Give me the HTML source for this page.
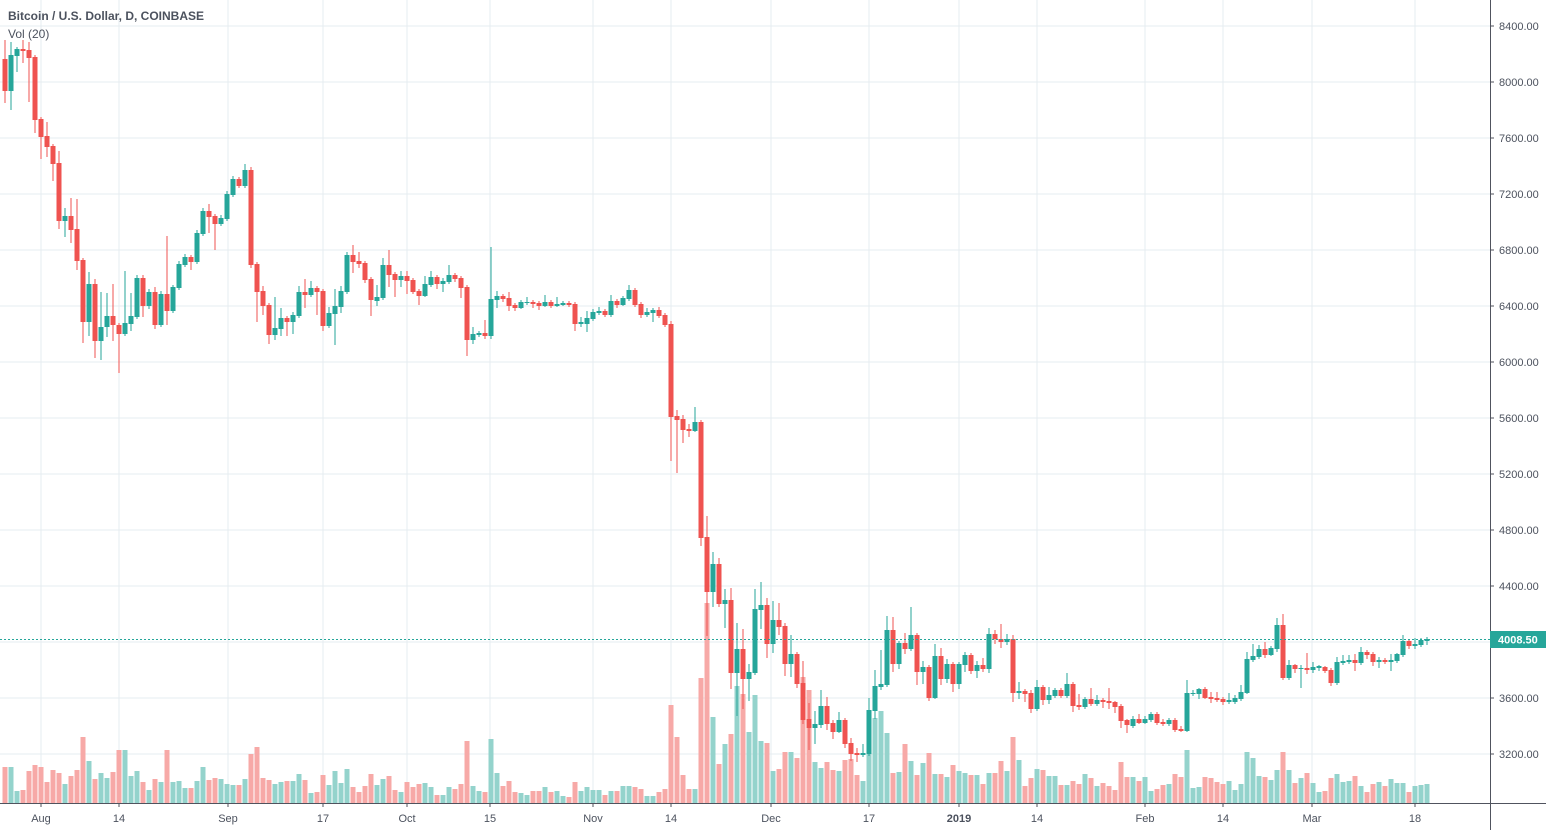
<!DOCTYPE html>
<html><head><meta charset="utf-8">
<style>
html,body{margin:0;padding:0;background:#fff;width:1546px;height:830px;overflow:hidden}
svg{display:block}
text{font-family:"Liberation Sans",sans-serif}
</style></head>
<body>
<svg id="c" width="1546" height="830" xmlns="http://www.w3.org/2000/svg"></svg>
<script>
const D=`r 59 91 40 103|g 55 91 42 110|g 49 56 47 72|r 49 51 40 63|r 50 58 42 102|r 57 120 55 133|r 119 137 117 159|r 136 147 122 157|r 146 164 144 181|r 163 221 151 229|g 216 221 208 237|r 216 230 198 243|r 229 261 199 270|r 260 322 258 343|g 284 322 272 336|r 284 341 279 358|g 327 341 292 360|g 316 327 293 337|r 316 325 284 341|r 325 334 323 373|g 323 334 271 336|g 316 324 293 331|g 278 317 275 319|r 278 306 275 317|g 292 306 289 309|r 292 325 287 329|g 294 325 291 327|r 294 311 236 325|g 287 311 285 313|g 264 288 261 290|g 257 265 254 267|r 257 262 255 270|g 233 262 230 264|g 211 234 208 236|r 211 217 204 233|r 216 224 214 250|g 218 224 215 226|g 194 219 191 221|g 179 195 176 197|r 179 186 177 188|g 170 186 164 188|r 170 265 167 268|r 264 292 262 322|r 291 306 286 315|r 305 335 303 344|g 328 335 297 340|g 318 329 308 336|r 318 322 316 336|g 315 322 312 334|g 292 316 286 318|r 292 295 279 308|g 288 295 281 297|r 288 292 286 315|r 291 326 289 331|g 313 326 307 328|g 306 314 289 345|g 291 307 286 313|g 255 292 252 294|r 255 262 245 273|r 261 264 252 268|r 263 280 261 283|r 279 300 277 316|g 297 301 285 306|g 265 298 258 300|r 265 275 250 287|r 274 280 272 297|g 276 280 271 287|r 276 281 271 294|r 280 292 278 294|r 291 296 289 305|g 284 296 276 297|g 277 285 271 287|r 277 284 275 289|g 281 284 278 292|g 275 282 265 284|r 275 279 273 282|r 278 288 276 298|r 287 340 285 356|g 334 340 327 344|g 333 335 331 337|r 333 336 320 339|g 299 336 247 339|g 296 300 291 308|r 296 299 294 302|r 298 306 292 311|r 305 308 303 311|g 302 308 300 309|g 302 303 297 305|r 302 304 300 308|r 303 306 301 310|g 302 306 295 307|r 302 306 300 308|g 304 306 297 307|g 303 305 301 306|r 303 305 301 307|r 304 324 302 331|g 322 324 317 327|g 318 324 311 332|g 312 319 309 321|g 311 313 307 315|r 311 315 309 317|g 301 315 295 317|r 301 305 299 308|g 298 305 296 306|g 290 299 285 301|r 290 305 288 307|r 304 315 302 318|g 312 315 308 317|g 310 313 308 322|r 310 316 307 318|r 315 325 313 327|r 324 417 321 461|r 416 420 410 473|r 419 430 415 443|r 429 431 424 437|g 422 431 407 432|r 422 538 420 546|r 537 592 516 636|g 564 592 552 607|r 564 604 558 607|g 600 604 589 628|r 600 673 588 689|g 649 673 623 716|r 649 679 629 709|g 672 679 664 701|g 609 673 589 675|g 605 610 582 629|r 605 644 598 658|g 620 644 601 653|r 620 627 603 635|r 626 664 623 676|g 654 664 635 677|r 654 684 652 688|r 683 720 661 724|r 719 728 703 750|g 724 728 711 744|g 706 725 690 728|r 706 724 697 730|r 723 732 720 739|g 720 732 712 733|r 720 744 718 748|r 743 754 738 761|r 753 755 748 762|g 753 755 744 757|g 710 754 698 756|g 686 711 670 719|g 684 687 650 690|g 630 685 616 687|r 630 664 617 672|g 643 664 641 669|r 643 649 633 654|g 635 649 607 651|r 635 672 633 685|g 667 672 661 684|r 667 698 665 701|g 656 698 644 699|r 656 679 648 685|g 664 679 659 683|r 664 684 662 692|g 664 684 662 689|g 655 665 652 672|r 655 671 653 674|g 665 671 661 678|r 665 669 658 672|g 634 669 628 673|r 634 639 630 644|r 639 642 624 648|g 639 642 634 645|r 639 693 635 702|g 691 693 682 699|r 691 694 689 702|r 693 709 690 713|g 687 709 680 711|r 687 700 685 705|g 695 700 687 704|g 690 696 688 698|r 690 696 688 698|g 684 696 673 698|r 684 706 682 712|r 705 707 694 710|g 699 707 697 709|r 699 704 688 706|g 700 704 695 706|r 700 702 698 708|r 701 703 688 709|r 702 707 701 713|r 706 721 704 728|r 720 725 719 733|g 719 726 716 728|r 719 723 714 724|g 719 723 716 724|g 714 720 712 722|r 714 723 712 725|r 722 724 719 726|g 720 724 718 726|r 720 730 718 732|r 729 731 726 732|g 693 731 680 732|g 693 694 690 696|g 689 694 688 699|r 689 698 687 699|r 697 699 692 703|r 698 700 692 702|r 699 702 697 705|g 700 702 693 704|g 698 702 695 704|g 692 699 685 701|g 659 693 652 694|g 656 660 644 662|g 649 657 645 659|r 649 655 642 658|g 648 655 646 656|g 625 649 618 652|r 625 678 614 680|g 665 678 660 680|r 665 669 664 673|g 668 669 665 688|r 668 670 653 674|g 667 670 662 673|g 666 668 665 671|r 667 671 666 673|r 670 683 668 686|g 662 683 657 685|g 661 663 655 665|g 660 662 655 664|r 660 663 654 671|g 652 663 647 665|r 652 655 650 659|r 654 662 652 666|g 660 662 657 668|r 660 662 658 664|g 660 662 654 671|g 654 661 653 663|g 641 655 635 657|r 641 646 639 649|g 644 646 638 649|g 640 645 638 647|g 639 641 637 645`;
const V=[36,36,12,13,32,38,36,21,33,30,19,27,33,66,42,24,30,25,31,53,53,27,32,21,13,24,21,53,21,22,15,15,22,36,23,25,24,19,18,18,24,49,56,25,23,19,21,22,22,29,23,10,11,28,18,32,20,34,16,11,17,29,18,24,27,13,11,21,16,19,20,16,8,8,16,14,19,62,17,12,11,64,30,17,22,11,10,8,12,12,16,11,12,7,6,21,12,16,13,13,8,12,12,17,17,16,14,7,7,11,14,98,66,28,14,14,125,200,86,39,59,69,117,109,71,108,62,60,32,34,51,51,45,126,113,41,35,41,33,32,43,44,28,22,51,85,92,70,30,31,59,42,28,40,50,29,29,26,38,32,30,28,28,19,30,30,42,32,66,43,17,25,34,33,27,27,18,18,22,19,29,25,17,20,17,13,41,26,26,22,26,12,14,18,19,29,26,53,15,16,26,25,21,19,22,13,19,51,45,27,26,23,33,51,33,20,25,30,20,11,12,25,29,21,22,27,17,11,19,21,17,24,20,20,11,17,18,19];
const G='#26a69a',R='#ef5350',GV='#94d3cc',RV='#f7a9a7';
let s='';
for(let k=0;k<14;k++){const y=26+k*56;s+=`<line x1="0" y1="${y}" x2="1490" y2="${y}" stroke="#e6ecf1" stroke-width="1"/>`;}
const xs=[[41,'Aug'],[119,'14'],[228,'Sep'],[323,'17'],[407,'Oct'],[490,'15'],[593,'Nov'],[671,'14'],[771,'Dec'],[869,'17'],[959,'2019'],[1037,'14'],[1145,'Feb'],[1223,'14'],[1312,'Mar'],[1415,'18']];
xs.forEach(([x])=>{s+=`<line x1="${x}" y1="0" x2="${x}" y2="803" stroke="#e6ecf1" stroke-width="1"/>`;});
const rows=D.split('|').map(r=>r.trim().split(' '));
rows.forEach((r,i)=>{const x=5+6*i;const h=V[i]||15;s+=`<rect x="${x-2.5}" y="${803-h}" width="5" height="${h}" fill="${r[0]=='g'?GV:RV}"/>`;});
rows.forEach((r,i)=>{const x=5+6*i;const c=r[0]=='g'?G:R;const t=+r[1],b=+r[2],hi=+r[3],lo=+r[4];
s+=`<line x1="${x}" y1="${hi}" x2="${x}" y2="${lo}" stroke="${c}" stroke-width="1"/>`;
s+=`<rect x="${x-2.5}" y="${t}" width="5" height="${Math.max(1,b-t)}" fill="${c}"/>`;});
s+=`<line x1="0" y1="639.5" x2="1490" y2="639.5" stroke="${G}" stroke-width="1" stroke-dasharray="2,2"/>`;
s+=`<line x1="1490.5" y1="0" x2="1490.5" y2="830" stroke="#50535e" stroke-width="1"/>`;
s+=`<line x1="0" y1="803.5" x2="1546" y2="803.5" stroke="#50535e" stroke-width="1"/>`;
for(let k=0;k<14;k++){const y=26+k*56;const p=8400-400*k;if(y>800)break;
s+=`<line x1="1490" y1="${y}" x2="1494" y2="${y}" stroke="#50535e"/>`;
s+=`<text x="1499" y="${y+4}" font-size="11" fill="#4c525e">${p.toFixed(2)}</text>`;}
s+=`<rect x="1490" y="631" width="56" height="17" fill="${G}"/><text x="1498" y="643.5" font-size="11" font-weight="bold" fill="#fff">4008.50</text>`;
xs.forEach(([x,l])=>{s+=`<line x1="${x}" y1="803" x2="${x}" y2="807" stroke="#50535e"/><text x="${x}" y="822" font-size="11" text-anchor="middle" fill="#4c525e" ${l=='2019'?'font-weight="bold"':''}>${l}</text>`;});
s+=`<text x="8" y="20" font-size="12" font-weight="bold" fill="#4c525e">Bitcoin / U.S. Dollar, D, COINBASE</text>`;
s+=`<text x="8" y="38" font-size="12" fill="#4c525e">Vol (20)</text>`;
document.getElementById('c').innerHTML=s;
</script>
</body></html>
